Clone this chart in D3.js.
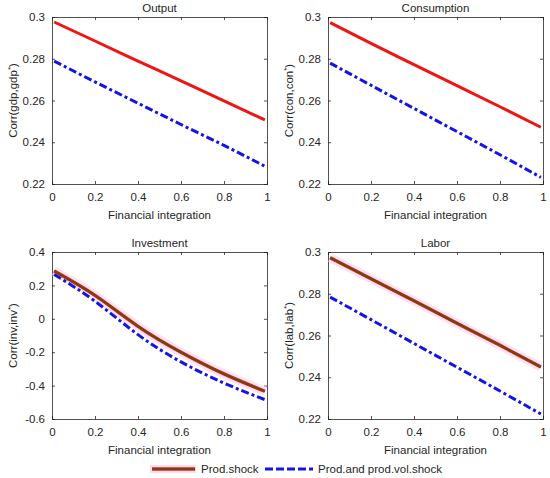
<!DOCTYPE html>
<html>
<head>
<meta charset="utf-8">
<script src="https://cdn.jsdelivr.net/npm/d3@7"></script>
<style>
  body { margin: 0; background: #fff; }
  svg { display: block; font-family: "Liberation Sans", Arial, sans-serif; }
  text { fill: #262626; }
</style>
</head>
<body>
<svg id="chart" width="550" height="478"></svg>
<script>
const xs = [0.01, 0.2, 0.4, 0.6, 0.8, 0.99];

const outputProd = [0.2976, 0.2885, 0.2789, 0.2694, 0.2598, 0.2507];
const outputVol = [0.2789, 0.2689, 0.2587, 0.2485, 0.2385, 0.2285];
const consProd = [0.2973, 0.2874, 0.2772, 0.2671, 0.2570, 0.2472];
const consVol = [0.2779, 0.2673, 0.2562, 0.2451, 0.2340, 0.2232];
const invProd = [0.286, 0.14, -0.045, -0.2, -0.33, -0.434];
const invVol = [0.266, 0.105, -0.095, -0.258, -0.385, -0.484];
const labProd = [0.2973, 0.2872, 0.2766, 0.2659, 0.2553, 0.2449];
const labVol = [0.2784, 0.2676, 0.2562, 0.2448, 0.2334, 0.2224];

const xTicks = [0, 0.2, 0.4, 0.6, 0.8, 1];
const smallTicks = [0.22, 0.24, 0.26, 0.28, 0.3];
const invTicks = [-0.6, -0.4, -0.2, 0, 0.2, 0.4];

const legendLabels = ['Prod.shock', 'Prod.and prod.vol.shock'];

const panels = [
  { title: 'Output', yl: 'gdp,gdp', prod: outputProd, vol: outputVol, ticks: smallTicks, dom: [0.22, 0.3], brown: false, left: 52, right: 267, top: 17, bottom: 184 },
  { title: 'Consumption', yl: 'con,con', prod: consProd, vol: consVol, ticks: smallTicks, dom: [0.22, 0.3], brown: false, left: 328, right: 543, top: 17, bottom: 184 },
  { title: 'Investment', yl: 'inv,inv', prod: invProd, vol: invVol, ticks: invTicks, dom: [-0.6, 0.4], brown: true, left: 52, right: 267, top: 252, bottom: 419 },
  { title: 'Labor', yl: 'lab,lab', prod: labProd, vol: labVol, ticks: smallTicks, dom: [0.22, 0.3], brown: true, left: 328, right: 543, top: 252, bottom: 419 },
];

const svg = d3.select('#chart');
const fs = '11.5px';
const axisColor = '#262626';
const dashVol = '8,3,3,3';

panels.forEach((p) => {
  const x = d3.scaleLinear().domain([0, 1]).range([p.left, p.right]);
  const y = d3.scaleLinear().domain(p.dom).range([p.bottom, p.top]);
  const g = svg.append('g');
  const w = p.right - p.left;
  const h = p.bottom - p.top;

  // axes with inward ticks, on all four sides (matlab box on)
  const fmt = (d) => String(+d.toFixed(2));
  g.append('g').attr('transform', `translate(0,${p.bottom})`)
    .call(d3.axisBottom(x).tickValues(xTicks).tickSize(-3).tickPadding(9).tickFormat(fmt));
  g.append('g').attr('transform', `translate(0,${p.top})`)
    .call(d3.axisTop(x).tickValues(xTicks).tickSize(-3).tickFormat(''));
  g.append('g').attr('transform', `translate(${p.left},0)`)
    .call(d3.axisLeft(y).tickValues(p.ticks).tickSize(-3).tickPadding(7).tickFormat(fmt));
  g.append('g').attr('transform', `translate(${p.right},0)`)
    .call(d3.axisRight(y).tickValues(p.ticks).tickSize(-3).tickFormat(''));
  g.selectAll('.domain').attr('stroke', axisColor).attr('stroke-width', 0.8);
  g.selectAll('.tick line').attr('stroke', axisColor).attr('stroke-width', 0.8);
  g.selectAll('.tick text').style('font-size', fs).attr('fill', axisColor);

  const line = d3.line()
    .x((d, i) => x(xs[i]))
    .y((d) => y(d))
    .curve(d3.curveNatural);

  if (p.brown) {
    g.append('path').attr('d', line(p.prod)).attr('fill', 'none')
      .attr('stroke', '#ffd9f2').attr('stroke-opacity', 0.8).attr('stroke-width', 9);
  }
  g.append('path').attr('d', line(p.vol)).attr('fill', 'none')
    .attr('stroke', '#1414e6').attr('stroke-width', 3).attr('stroke-dasharray', dashVol);
  if (p.brown) {
    g.append('path').attr('d', line(p.prod)).attr('fill', 'none')
      .attr('stroke', '#c0301a').attr('stroke-width', 3.4);
    g.append('path').attr('d', line(p.prod)).attr('fill', 'none')
      .attr('stroke', '#7e4010').attr('stroke-width', 2.2);
  } else {
    g.append('path').attr('d', line(p.prod)).attr('fill', 'none')
      .attr('stroke', '#f01414').attr('stroke-width', 3);
  }

  // title and labels
  g.append('text').attr('x', p.left + w / 2).attr('y', p.top - 5)
    .attr('text-anchor', 'middle').style('font-size', fs).text(p.title);
  g.append('text').attr('x', p.left + w / 2).attr('y', p.bottom + 35)
    .attr('text-anchor', 'middle').style('font-size', fs).text('Financial integration');
  const yl = g.append('text')
    .attr('transform', `translate(${p.left - 35},${p.top + h / 2}) rotate(-90)`)
    .attr('text-anchor', 'middle').style('font-size', fs);
  yl.append('tspan').text(`Corr(${p.yl}`);
  yl.append('tspan').attr('dy', -4).style('font-size', '8px').text('*');
  yl.append('tspan').attr('dy', 4).text(')');
});

// legend
const leg = svg.append('g');
const ly = 469;
leg.append('line').attr('x1', 150).attr('x2', 196).attr('y1', ly).attr('y2', ly)
  .attr('stroke', '#ffd9f2').attr('stroke-width', 8);
leg.append('line').attr('x1', 152).attr('x2', 195).attr('y1', ly).attr('y2', ly)
  .attr('stroke', '#c0301a').attr('stroke-width', 3.4);
leg.append('line').attr('x1', 152).attr('x2', 195).attr('y1', ly).attr('y2', ly)
  .attr('stroke', '#7e4010').attr('stroke-width', 2.2);
leg.append('text').attr('x', 201).attr('y', ly + 4).style('font-size', fs).text(legendLabels[0]);
leg.append('line').attr('x1', 265).attr('x2', 313).attr('y1', ly).attr('y2', ly)
  .attr('stroke', '#1414e6').attr('stroke-width', 3).attr('stroke-dasharray', '8,3');
leg.append('text').attr('x', 318).attr('y', ly + 4).style('font-size', fs).text(legendLabels[1]);
</script>
</body>
</html>
